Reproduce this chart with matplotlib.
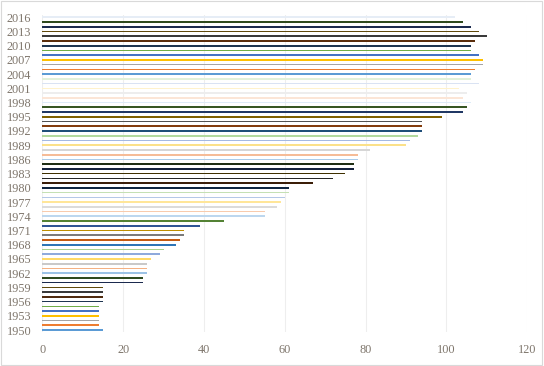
import matplotlib.pyplot as plt
from matplotlib.patches import Rectangle

# 年份与数值
years = list(range(1950, 2017))
values = [15, 14, 14, 14, 14, 14, 15, 15, 15, 15,
          25, 25, 26, 26, 26, 27, 29, 30, 33, 34,
          35, 35, 39, 45, 55, 55, 58, 59, 60, 61,
          61, 67, 72, 75, 77, 77, 78, 78, 81, 90,
          91, 93, 94, 94, 94, 99, 104, 105, 106, 104,
          105, 103, 108, 106, 106, 107, 109, 109, 108, 106,
          106, 107, 110, 108, 106, 104, 102]

# 每根条的颜色（按年份）
colors = ['#5b9bd5', '#ed7d31', '#a5a5a5', '#ffc000', '#4472c4', '#70ad47',
          '#1e3551', '#4f2a0e', '#3a3a3a', '#614a0c', '#1b2a4e', '#2f4a1e',
          '#9dc3e6', '#f4b183', '#c9c9c9', '#ffd966', '#8faadc', '#a9d18e',
          '#2e75b6', '#c55a11', '#7b7b7b', '#bf8f00', '#2f5597', '#548235',
          '#bdd7ee', '#f8cbad', '#dbdbdb', '#ffe699', '#b4c7e7', '#c5e0b4',
          '#0f2540', '#3b1e08', '#262626', '#3f3000', '#14213d', '#1e2d14',
          '#a9cbe9', '#f6bc97', '#d6d6d6', '#fbe18a', '#a4b9e2', '#b3d99e',
          '#1f4e79', '#843c0c', '#525252', '#7f6000', '#203864', '#375623',
          '#deebf7', '#fbe5d6', '#ededed', '#fff2cc', '#dae3f3', '#e2f0d9',
          '#5b9bd5', '#ed7d31', '#a5a5a5', '#ffc000', '#4472c4', '#70ad47',
          '#1e3551', '#5a2d0c', '#3a3a3a', '#614a0c', '#1b2a4e', '#2f4a1e',
          '#e6edf6']

year_ticks = list(range(1950, 2017, 3))
x_ticks = [0, 20, 40, 60, 80, 100, 120]

fig = plt.figure(figsize=(5.44, 3.66), dpi=100)
ax = fig.add_axes([0.0778, 0.0918, 0.8915, 0.8675])

ax.barh(years, values, height=0.35, color=colors, zorder=2)

ax.set_xlim(0, 120)
ax.set_ylim(1949.5, 2016.5)
ax.set_xticks(x_ticks)
ax.set_yticks(year_ticks)

# 网格与坐标轴样式
ax.grid(axis='x', color='#eeeeee', linewidth=0.8, zorder=0)
for s in ax.spines.values():
    s.set_visible(False)
ax.tick_params(length=0, labelcolor='#7f766c', labelsize=8.8)
ax.tick_params(axis='y', pad=8)
ax.tick_params(axis='x', pad=8)
for lab in ax.get_xticklabels() + ax.get_yticklabels():
    lab.set_family('Liberation Serif')

# 外框
fig.patches.append(Rectangle((0.002, 0.004), 0.995, 0.992, transform=fig.transFigure,
                             fill=False, edgecolor='#d9d9d9', linewidth=0.8))

fig.savefig('out.png', dpi=100)
